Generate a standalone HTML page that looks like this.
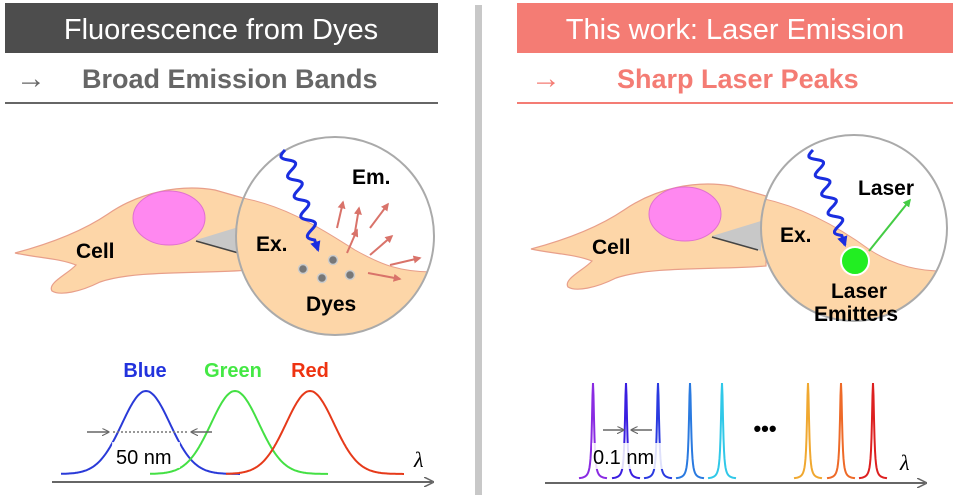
<!DOCTYPE html>
<html><head><meta charset="utf-8"><style>
html,body{margin:0;padding:0;background:#fff;}
svg{display:block;font-family:"Liberation Sans",Arial,sans-serif;}
</style></head><body>
<svg id="s" width="960" height="499" viewBox="0 0 960 499" xmlns="http://www.w3.org/2000/svg">
<defs>
<clipPath id="cl"><circle cx="335" cy="236" r="99"/></clipPath>
<clipPath id="cr"><circle cx="854" cy="228" r="93"/></clipPath>
<marker id="ar" viewBox="0 0 10 10" refX="8" refY="5" markerWidth="4" markerHeight="4" orient="auto"><path d="M0,0L10,5L0,10z" fill="#d9736a"/></marker>
<marker id="ab" viewBox="0 0 10 10" refX="8" refY="5" markerWidth="3.5" markerHeight="3.5" orient="auto"><path d="M0,0L10,5L0,10z" fill="#1a2ee0"/></marker>
<marker id="ag" viewBox="0 0 10 10" refX="8" refY="5" markerWidth="4" markerHeight="4" orient="auto"><path d="M0,0L10,5L0,10z" fill="#44cc44"/></marker>
<marker id="ax" viewBox="0 0 10 10" refX="8" refY="5" markerWidth="5" markerHeight="5" orient="auto"><path d="M0,0L10,5L0,10" fill="none" stroke="#666" stroke-width="1.5"/></marker>
</defs>
<rect x="5" y="3" width="433" height="50" fill="#4d4d4d"/>
<text x="221" y="39" font-size="29" fill="#fff" text-anchor="middle">Fluorescence from Dyes</text>
<text x="16" y="88" font-size="30" fill="#666">→</text>
<text x="82" y="88" font-size="27" font-weight="bold" fill="#666">Broad Emission Bands</text>
<rect x="5" y="102" width="433" height="2" fill="#666"/>
<rect x="475" y="5" width="7" height="490" fill="#c8c8c8"/>
<rect x="517" y="3" width="436" height="50" fill="#f47c74"/>
<text x="735" y="39" font-size="29" fill="#fff" text-anchor="middle">This work: Laser Emission</text>
<text x="531" y="88" font-size="30" fill="#f47c74">→</text>
<text x="617" y="88" font-size="27" font-weight="bold" fill="#f47c74">Sharp Laser Peaks</text>
<rect x="517" y="102" width="436" height="2" fill="#f47c74"/>

<g id="cellL">
<path d="M15,253 C45,245 80,233 108,214 C140,192 180,184 215,190 L250,200 L250,270 C200,274 135,270 100,282 C80,292 60,296 52,291 C47,283 68,274 76,265 C58,258 38,258 15,253Z" fill="#fdd6a8" stroke="#e89f8a" stroke-width="1.2"/>
<ellipse cx="169" cy="218" rx="36" ry="27" fill="#ff88f0" stroke="#e070d0" stroke-width="1"/>
<text x="76" y="258" font-size="21" font-weight="bold">Cell</text>
<path d="M196,240 L245,225 L245,255 Z" fill="#c8c8c8"/>
<path d="M196,241 L242,254" stroke="#444" stroke-width="1.5"/>
</g>
<use href="#cellL" transform="translate(516,-4)"/>

<circle cx="335" cy="236" r="99" fill="#fff"/>
<g clip-path="url(#cl)">
<path d="M230,196 C280,202 320,228 355,250 C380,264 400,273 440,272 L440,340 L230,340Z" fill="#fdd6a8" stroke="#e89f8a" stroke-width="1"/>
</g>
<circle cx="335" cy="236" r="99" fill="none" stroke="#aaa" stroke-width="2"/>
<path id="w1" fill="none" stroke="#1a2ee0" stroke-width="3" marker-end="url(#ab)"/>
<g stroke="#d9736a" stroke-width="2" marker-end="url(#ar)" fill="none">
<path d="M337,228 L343,202"/><path d="M347,253 L357,230"/><path d="M355,232 L359,208"/>
<path d="M370,228 L388,204"/><path d="M370,255 L392,236"/><path d="M390,265 L420,258"/><path d="M368,273 L400,279"/>
</g>
<g fill="#777" stroke="#ccc" stroke-width="1.5"><circle cx="303" cy="269" r="4.5"/><circle cx="333" cy="260" r="4.5"/><circle cx="322" cy="278" r="4.5"/><circle cx="350" cy="275" r="4.5"/></g>
<text x="352" y="184" font-size="21" font-weight="bold">Em.</text>
<text x="256" y="251" font-size="21" font-weight="bold">Ex.</text>
<text x="306" y="311" font-size="21" font-weight="bold">Dyes</text>

<circle cx="854" cy="228" r="93" fill="#fff"/>
<g clip-path="url(#cr)">
<path d="M755,197 C800,205 840,228 870,250 C895,266 920,272 950,271 L950,330 L755,330Z" fill="#fdd6a8" stroke="#e89f8a" stroke-width="1"/>
</g>
<circle cx="854" cy="228" r="93" fill="none" stroke="#aaa" stroke-width="2"/>
<path id="w2" fill="none" stroke="#1a2ee0" stroke-width="3" marker-end="url(#ab)"/>
<path d="M869,251 L910,200" stroke="#44cc44" stroke-width="2" marker-end="url(#ag)"/>
<circle cx="855" cy="261" r="14" fill="#22ee22" stroke="#fff" stroke-width="2"/>
<text x="858" y="195" font-size="21" font-weight="bold">Laser</text>
<text x="780" y="242" font-size="21" font-weight="bold">Ex.</text>
<text x="859" y="298" font-size="21" font-weight="bold" text-anchor="middle">Laser</text>
<text x="856" y="321" font-size="21" font-weight="bold" text-anchor="middle">Emitters</text>

<text x="145" y="377" font-size="20" font-weight="bold" fill="#2233dd" text-anchor="middle">Blue</text>
<text x="233" y="377" font-size="20" font-weight="bold" fill="#44e844" text-anchor="middle">Green</text>
<text x="310" y="377" font-size="20" font-weight="bold" fill="#ee3311" text-anchor="middle">Red</text>
<g id="gl" fill="none" stroke-width="2"></g>
<path d="M113,432 L188,432" stroke="#777" stroke-width="1.5" stroke-dasharray="2,2"/>
<path d="M87,432 L108,432" stroke="#666" stroke-width="1.5" marker-end="url(#ax)"/>
<path d="M212,432 L192,432" stroke="#666" stroke-width="1.5" marker-end="url(#ax)"/>
<rect x="112" y="442" width="68" height="26" fill="#fff" opacity="0.8"/>
<text x="116" y="464" font-size="20">50 nm</text>
<path d="M52,482 L432,482" stroke="#666" stroke-width="2" marker-end="url(#ax)"/>
<text x="414" y="467" font-size="22" font-style="italic" font-family="Liberation Serif,serif">λ</text>

<g id="gr" fill="none" stroke-width="2"></g>
<path d="M603,430 L623,430" stroke="#666" stroke-width="1.5" marker-end="url(#ax)"/>
<path d="M652,430 L632,430" stroke="#666" stroke-width="1.5" marker-end="url(#ax)"/>
<rect x="592" y="443" width="82" height="26" fill="#fff" opacity="0.85"/>
<text x="593" y="464" font-size="20">0.1  nm</text>
<text x="765" y="436" font-size="22" font-weight="bold" text-anchor="middle">•••</text>
<path d="M545,483 L925,483" stroke="#666" stroke-width="2" marker-end="url(#ax)"/>
<text x="900" y="470" font-size="22" font-style="italic" font-family="Liberation Serif,serif">λ</text>
</svg>
<script>
var NS="http://www.w3.org/2000/svg";
function wave(id,x0,y0,x1,y1){var d="",n=80,dx=x1-x0,dy=y1-y0,L=Math.hypot(dx,dy),nx=-dy/L,ny=dx/L;for(var i=0;i<=n;i++){var t=i/n,a=(t<0.9?6*Math.sin(t/0.9*2*Math.PI*4.5):0);var x=x0+dx*t+nx*a,y=y0+dy*t+ny*a;d+=(d?"L":"M")+x.toFixed(1)+","+y.toFixed(1);}document.getElementById(id).setAttribute("d",d);}
wave("w1",285,150,318,250);wave("w2",813,150,845,245);
function gauss(c,s,x0,x1,top,base){var d="";for(var x=x0;x<=x1;x+=1){var y=base-(base-top)*Math.exp(-Math.pow((x-c)/s,2)/2);d+=(d?"L":"M")+x+","+y.toFixed(1);}return d;}
var gl=document.getElementById("gl");
[[146,24,61,240,"#2a3ad8"],[235,24,150,328,"#44e044"],[310,24,226,404,"#e63a1a"]].forEach(function(g){var p=document.createElementNS(NS,"path");p.setAttribute("d",gauss(g[0],g[1],g[2],g[3],391,474));p.setAttribute("stroke",g[4]);gl.appendChild(p);});
function lor(c,w,top,base){var d="";for(var x=c-14;x<=c+14;x+=0.5){var y=base-(base-top)/(1+Math.pow((x-c)/w,2));d+=(d?"L":"M")+x+","+y.toFixed(1);}return d;}
var gr=document.getElementById("gr");
[[593,"#8a2be2"],[626,"#3a1ee0"],[658,"#2a3ae0"],[690,"#2a7ae0"],[722,"#30c8e8"],[808,"#f0a830"],[841,"#ee6a28"],[873,"#dd2020"]].forEach(function(g){var p=document.createElementNS(NS,"path");p.setAttribute("d",lor(g[0],1.3,383,479));p.setAttribute("stroke",g[1]);gr.appendChild(p);});
</script>
</body></html>
